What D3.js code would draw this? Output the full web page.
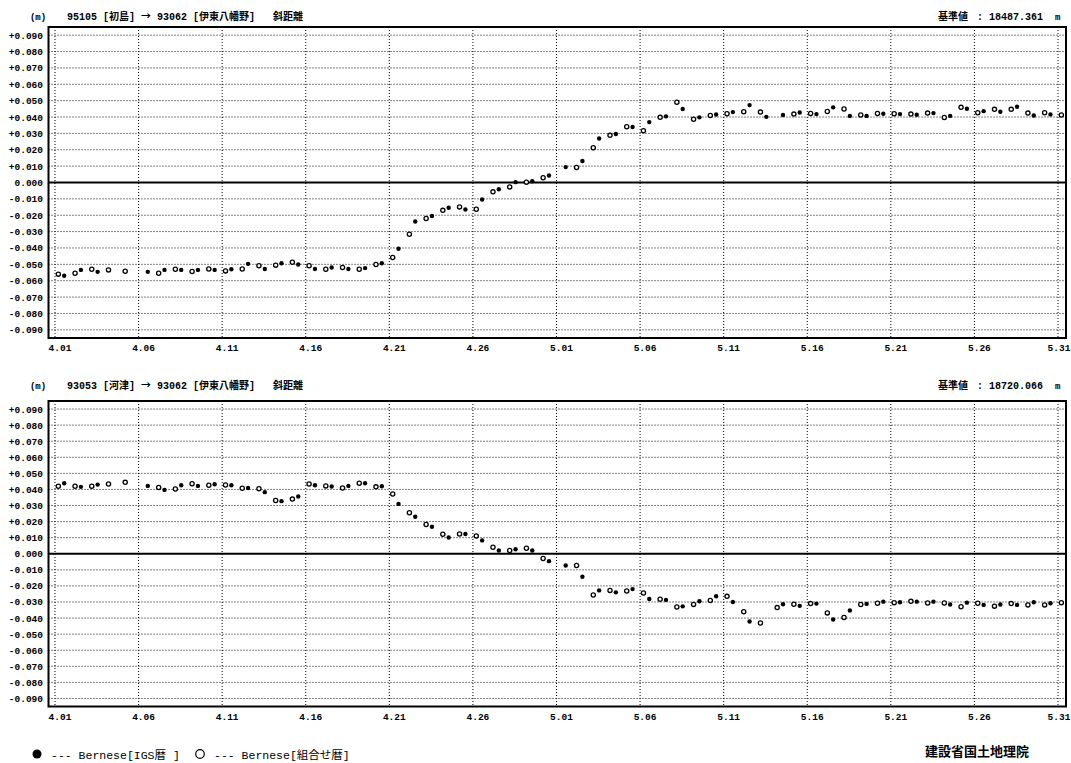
<!DOCTYPE html>
<html>
<head>
<meta charset="utf-8">
<script src="https://cdn.jsdelivr.net/npm/d3@7"></script>
<style>
  html, body { margin: 0; padding: 0; background: #fff; }
  svg text { font-family: 'Liberation Mono', 'Noto Sans CJK JP', monospace; fill: #000; }
</style>
</head>
<body>
<script>
// day labels under the vertical gridlines (every 5 days, 4.01 .. 5.31)
const dayLabels = ['4.01', '4.06', '4.11', '4.16', '4.21', '4.26', '5.01', '5.06', '5.11', '5.16', '5.21', '5.26', '5.31'];
const dayTicks = [0, 5, 10, 15, 20, 25, 30, 35, 40, 45, 50, 55, 60];

const yTicks = [0.09, 0.08, 0.07, 0.06, 0.05, 0.04, 0.03, 0.02, 0.01, 0, -0.01, -0.02, -0.03, -0.04, -0.05, -0.06, -0.07, -0.08, -0.09];
const yTickLabels = ['+0.090', '+0.080', '+0.070', '+0.060', '+0.050', '+0.040', '+0.030', '+0.020', '+0.010', '0.000',
  '-0.010', '-0.020', '-0.030', '-0.040', '-0.050', '-0.060', '-0.070', '-0.080', '-0.090'];

// one value per day (index 0 = 4.01), null = no solution
// 95105 [初島] -> 93062 [伊東八幡野]
const p1Igs = [
  -0.0570, -0.0534, -0.0546, null, null, -0.0546, -0.0534, -0.0534, -0.0534, -0.0534,
  -0.0530, -0.0497, -0.0528, -0.0493, -0.0501, -0.0528, -0.0519, -0.0528, -0.0523, -0.0493,
  -0.0405, -0.0238, -0.0205, -0.0154, -0.0165, -0.0104, -0.0041, 0.0002, 0.0008, 0.0043,
  0.0094, 0.0131, 0.0269, 0.0296, 0.0339, 0.0369, 0.0404, 0.0449, 0.0398, 0.0415,
  0.0430, 0.0473, 0.0401, 0.0412, 0.0428, 0.0418, 0.0459, 0.0407, 0.0407, 0.0420,
  0.0418, 0.0414, 0.0424, 0.0407, 0.0451, 0.0436, 0.0432, 0.0463, 0.0409, 0.0416,
  null
];
const p1Comb = [
  -0.0560, -0.0554, -0.0530, -0.0534, -0.0542, null, -0.0554, -0.0530, -0.0544, -0.0528,
  -0.0540, -0.0528, -0.0509, -0.0505, -0.0487, -0.0509, -0.0530, -0.0519, -0.0530, -0.0501,
  -0.0458, -0.0316, -0.0220, -0.0170, -0.0149, -0.0163, -0.0057, -0.0027, 0.0002, 0.0029,
  null, 0.0092, 0.0212, 0.0288, 0.0341, 0.0316, 0.0398, 0.0490, 0.0386, 0.0410,
  0.0420, 0.0432, 0.0430, null, 0.0418, 0.0422, 0.0434, 0.0449, 0.0412, 0.0422,
  0.0420, 0.0418, 0.0424, 0.0397, 0.0459, 0.0426, 0.0447, 0.0447, 0.0424, 0.0426,
  0.0412
];

// 93053 [河津] -> 93062 [伊東八幡野]
const p2Igs = [
  0.0438, 0.0416, 0.0430, null, null, 0.0422, 0.0397, 0.0426, 0.0422, 0.0432,
  0.0426, 0.0409, 0.0383, 0.0327, 0.0356, 0.0426, 0.0418, 0.0422, 0.0438, 0.0420,
  0.0310, 0.0230, 0.0168, 0.0101, 0.0123, 0.0083, 0.0020, 0.0028, 0.0020, -0.0046,
  -0.0073, -0.0143, -0.0228, -0.0240, -0.0220, -0.0281, -0.0287, -0.0327, -0.0295, -0.0264,
  -0.0300, -0.0421, null, -0.0314, -0.0324, -0.0310, -0.0409, -0.0353, -0.0312, -0.0298,
  -0.0302, -0.0298, -0.0298, -0.0316, -0.0304, -0.0318, -0.0316, -0.0318, -0.0302, -0.0308,
  null
];
const p2Comb = [
  0.0420, 0.0420, 0.0420, 0.0434, 0.0444, null, 0.0412, 0.0403, 0.0436, 0.0426,
  0.0428, 0.0407, 0.0405, 0.0331, 0.0340, 0.0434, 0.0422, 0.0409, 0.0438, 0.0416,
  0.0372, 0.0255, 0.0182, 0.0121, 0.0123, 0.0111, 0.0040, 0.0020, 0.0034, -0.0030,
  null, -0.0073, -0.0257, -0.0228, -0.0232, -0.0244, -0.0283, -0.0331, -0.0315, -0.0290,
  -0.0265, -0.0361, -0.0431, -0.0335, -0.0314, -0.0310, -0.0368, -0.0396, -0.0316, -0.0308,
  -0.0304, -0.0296, -0.0306, -0.0306, -0.0329, -0.0308, -0.0326, -0.0310, -0.0318, -0.0318,
  -0.0304
];

const panels = [
  { from: '95105 [初島]', to: '93062 [伊東八幡野]', base: '18487.361', igs: p1Igs, comb: p1Comb, top: 27, bottom: 338, head: 20 },
  { from: '93053 [河津]', to: '93062 [伊東八幡野]', base: '18720.066', igs: p2Igs, comb: p2Comb, top: 401, bottom: 706.5, head: 389 }
];

const W = 1071, H = 763;
const frameLeft = 48.5, frameRight = 1066;

const svg = d3.select('body').append('svg').attr('width', W).attr('height', H);

const x = d3.scaleLinear().domain([0, 60]).range([55, 1058]);

panels.forEach((p) => {
  const y = d3.scaleLinear().domain([-0.095, 0.095]).range([p.bottom, p.top]);
  const g = svg.append('g');

  // header line
  g.append('text').attr('x', 38).attr('y', p.head).attr('text-anchor', 'middle')
    .style('font-size', '9px').style('font-weight', 'bold').text('(m)');
  const t = g.append('text').attr('x', 67).attr('y', p.head)
    .style('font-size', '10px').style('font-weight', 'bold');
  t.append('tspan').text(p.from + ' ');
  t.append('tspan').style('font-family', "'Noto Sans CJK JP'").text('→');
  t.append('tspan').text(' ' + p.to);
  g.append('text').attr('x', 273).attr('y', p.head)
    .style('font-size', '10px').style('font-weight', 'bold').text('斜距離');
  g.append('text').attr('x', 938).attr('y', p.head)
    .style('font-size', '10px').style('font-weight', 'bold').text('基準値');
  g.append('text').attr('x', 977).attr('y', p.head)
    .style('font-size', '10px').style('font-weight', 'bold').text(': ' + p.base);
  g.append('text').attr('x', 1055).attr('y', p.head)
    .style('font-size', '9px').style('font-weight', 'bold').text('m');

  // horizontal dotted grid
  g.selectAll('line.hgrid').data(yTicks.filter((d) => d !== 0)).enter().append('line')
    .attr('class', 'hgrid')
    .attr('x1', frameLeft).attr('x2', frameRight)
    .attr('y1', (d) => y(d)).attr('y2', (d) => y(d))
    .attr('stroke', '#000').attr('stroke-width', 1).attr('stroke-dasharray', '1,2');

  // vertical dotted grid
  g.selectAll('line.vgrid').data(dayTicks).enter().append('line')
    .attr('class', 'vgrid')
    .attr('x1', (d) => x(d)).attr('x2', (d) => x(d))
    .attr('y1', p.top).attr('y2', p.bottom)
    .attr('stroke', '#000').attr('stroke-width', 1).attr('stroke-dasharray', '1,2');

  // zero line
  g.append('line').attr('x1', frameLeft).attr('x2', frameRight)
    .attr('y1', y(0)).attr('y2', y(0)).attr('stroke', '#000').attr('stroke-width', 1.8);

  // frame
  g.append('rect').attr('x', frameLeft).attr('y', p.top)
    .attr('width', frameRight - frameLeft).attr('height', p.bottom - p.top)
    .attr('fill', 'none').attr('stroke', '#000').attr('stroke-width', 2);

  // y tick labels
  g.selectAll('text.ylab').data(yTicks).enter().append('text')
    .attr('class', 'ylab')
    .attr('x', 43).attr('y', (d) => y(d) + 3.5)
    .attr('text-anchor', 'end')
    .style('font-size', '9.5px').style('font-weight', 'bold')
    .text((d, i) => yTickLabels[i]);

  // x tick labels
  g.selectAll('text.xlab').data(dayTicks).enter().append('text')
    .attr('class', 'xlab')
    .attr('x', (d, i) => i === dayTicks.length - 1 ? x(d) + 1 : x(d) + 5)
    .attr('y', p.bottom + 13)
    .attr('text-anchor', 'middle')
    .style('font-size', '9.5px').style('font-weight', 'bold')
    .text((d, i) => dayLabels[i]);

  // points: combined orbit (open) early in the day, IGS orbit (filled) later
  const comb = p.comb.map((v, i) => ({ day: i + 0.2, v: v })).filter((d) => d.v !== null);
  const igs = p.igs.map((v, i) => ({ day: i + 0.55, v: v })).filter((d) => d.v !== null);

  g.selectAll('circle.comb').data(comb).enter().append('circle')
    .attr('class', 'comb')
    .attr('cx', (d) => x(d.day)).attr('cy', (d) => y(d.v)).attr('r', 2.1)
    .attr('fill', '#fff').attr('stroke', '#000').attr('stroke-width', 1.3);

  g.selectAll('circle.igs').data(igs).enter().append('circle')
    .attr('class', 'igs')
    .attr('cx', (d) => x(d.day)).attr('cy', (d) => y(d.v)).attr('r', 2.2)
    .attr('fill', '#000');
});

// legend
const legendY = 755;
svg.append('circle').attr('cx', 37).attr('cy', legendY - 1).attr('r', 4.5).attr('fill', '#000');
svg.append('text').attr('x', 51).attr('y', legendY + 4)
  .style('font-size', '11.5px').text('--- Bernese[IGS暦 ]');
svg.append('circle').attr('cx', 200).attr('cy', legendY - 1).attr('r', 4.3)
  .attr('fill', '#fff').attr('stroke', '#000').attr('stroke-width', 1.2);
svg.append('text').attr('x', 214).attr('y', legendY + 4)
  .style('font-size', '11.5px').text('--- Bernese[組合せ暦]');

svg.append('text').attr('x', 925).attr('y', 756)
  .style('font-size', '13px').style('font-weight', 'bold').text('建設省国土地理院');
</script>
</body>
</html>
